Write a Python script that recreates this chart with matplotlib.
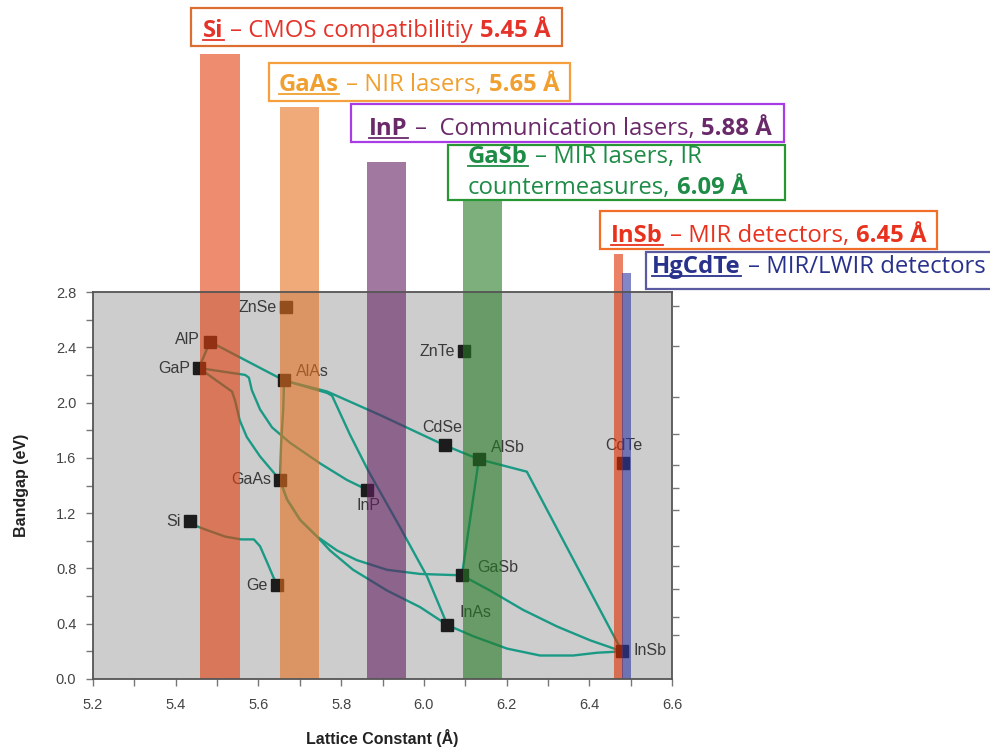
import matplotlib
matplotlib.use("Agg")
import matplotlib.pyplot as plt
from matplotlib.patches import Rectangle
from matplotlib.lines import Line2D
from matplotlib.ticker import MultipleLocator

# compuestos: constante de red (Å) y bandgap (eV)
compounds = ["ZnSe", "AlP", "GaP", "AlAs", "ZnTe", "CdSe", "AlSb", "CdTe",
             "GaAs", "InP", "Si", "Ge", "GaSb", "InAs", "InSb"]
lattice = [5.667, 5.483, 5.456, 5.662, 6.098, 6.051, 6.133, 6.482,
           5.652, 5.862, 5.435, 5.645, 6.092, 6.057, 6.479]
bandgap = [2.69, 2.44, 2.25, 2.16, 2.37, 1.69, 1.59, 1.56,
           1.44, 1.37, 1.14, 0.68, 0.75, 0.39, 0.20]

# aleaciones (x, y)
AlP_GaP = ([5.483, 5.456], [2.44, 2.25])
AlP_AlAs = ([5.483, 5.662], [2.44, 2.16])
GaP_InP = ([5.456, 5.568, 5.577, 5.584, 5.604, 5.633, 5.676, 5.749, 5.814, 5.862],
           [2.25, 2.20, 2.18, 2.09, 1.95, 1.82, 1.71, 1.56, 1.44, 1.37])
GaP_GaAs = ([5.456, 5.536, 5.543, 5.555, 5.572, 5.604, 5.652],
            [2.25, 2.08, 2.02, 1.87, 1.75, 1.61, 1.44])
AlAs_GaAs = ([5.662, 5.660, 5.655, 5.652], [2.16, 1.95, 1.71, 1.44])
AlAs_AlSb = ([5.662, 5.766, 5.894, 6.051, 6.133], [2.16, 2.08, 1.91, 1.69, 1.59])
AlAs_InAs = ([5.662, 5.766, 5.778, 5.821, 5.865, 5.942, 6.008, 6.057],
             [2.16, 2.07, 2.05, 1.77, 1.51, 1.10, 0.74, 0.39])
GaAs_GaSb = ([5.652, 5.669, 5.701, 5.742, 5.790, 5.838, 5.911, 5.991, 6.092],
             [1.44, 1.30, 1.15, 1.03, 0.93, 0.86, 0.79, 0.76, 0.75])
GaAs_InAs = ([5.652, 5.669, 5.701, 5.742, 5.773, 5.829, 5.911, 5.991, 6.057],
             [1.44, 1.30, 1.15, 1.03, 0.93, 0.79, 0.64, 0.52, 0.39])
Si_Ge = ([5.435, 5.447, 5.473, 5.520, 5.558, 5.589, 5.604, 5.623, 5.640, 5.645],
         [1.14, 1.11, 1.08, 1.03, 1.01, 1.01, 0.96, 0.83, 0.71, 0.68])
AlSb_InSb = ([6.133, 6.249, 6.479], [1.59, 1.50, 0.20])
AlSb_GaSb = ([6.133, 6.092], [1.59, 0.75])
GaSb_InSb = ([6.092, 6.160, 6.240, 6.322, 6.402, 6.479],
             [0.75, 0.64, 0.50, 0.38, 0.28, 0.20])
InAs_InSb = ([6.057, 6.119, 6.201, 6.281, 6.361, 6.419, 6.479],
             [0.39, 0.31, 0.22, 0.17, 0.17, 0.19, 0.20])
alloys = [AlP_GaP, AlP_AlAs, GaP_InP, GaP_GaAs, AlAs_GaAs, AlAs_AlSb, AlAs_InAs,
          GaAs_GaSb, GaAs_InAs, Si_Ge, AlSb_InSb, AlSb_GaSb, GaSb_InSb, InAs_InSb]

# barras de sustrato
bar_left = [5.458, 5.652, 5.862, 6.094, 6.460, 6.480]
bar_width = [0.097, 0.094, 0.095, 0.096, 0.021, 0.020]
bar_top = [4.52, 4.14, 3.74, 3.55, 3.075, 2.94]
bar_colors = ["#e13f0d", "#e6711e", "#611e61", "#267a26", "#de2f00", "#2f37a3"]

# eje derecho (marcas sin etiqueta)
right_ticks_ev = [2.70, 2.41, 2.04, 1.77, 1.55, 1.38, 1.22, 0.96, 0.82, 0.65, 0.45, 0.32]

# cajas de texto superiores
header_names = ["Si", "GaAs", "InP", "GaSb", "InSb", "HgCdTe"]
header_desc = ["– CMOS compatibilitiy", "– NIR lasers,", "–  Communication lasers,",
               "– MIR lasers, IR", "– MIR detectors,", "– MIR/LWIR detectors"]
header_value = ["5.45 Å", "5.65 Å", "5.88 Å", "", "6.45 Å", ""]
header_line2 = ["", "", "", "countermeasures,", "", ""]
header_line2_value = ["", "", "", "6.09 Å", "", ""]
header_text_colors = ["#e5332a", "#f0a030", "#6a2a6a", "#1e8c46", "#e8321e", "#28328c"]
header_edge_colors = ["#dc6e32", "#f5a03c", "#aa3ce6", "#289632", "#f06e28", "#5a5aa0"]

W, H = 990, 747
fig = plt.figure(figsize=(W / 100, H / 100), dpi=100)
ax = fig.add_axes([93 / W, (H - 679) / H, (672 - 93) / W, (679 - 292) / H])
ax.set_facecolor("#cdcdcd")

for xs, ys in alloys:
    ax.plot(xs, ys, color="#1a9a85", lw=1.7, zorder=3, solid_joinstyle="round")
ax.plot(lattice, bandgap, "s", ms=8.5, color="#1c1c1c", zorder=4)

# posiciones de etiquetas (pixeles respecto al marcador)
label_offsets = {
    "ZnSe": (-9, 0, "right", "center"), "AlP": (-10, 2, "right", "center"),
    "GaP": (-9, 0, "right", "center"), "AlAs": (12, 9, "left", "center"),
    "ZnTe": (-9, 0, "right", "center"), "CdSe": (-3, 18, "center", "center"),
    "AlSb": (12, 12, "left", "center"), "CdTe": (1, 18, "center", "center"),
    "GaAs": (-9, 0, "right", "center"), "InP": (2, -16, "center", "center"),
    "Si": (-10, 0, "right", "center"), "Ge": (-9, 0, "right", "center"),
    "GaSb": (15, 8, "left", "center"), "InAs": (12, 13, "left", "center"),
    "InSb": (12, 1, "left", "center"),
}
for name, x, y in zip(compounds, lattice, bandgap):
    dx, dy, ha, va = label_offsets[name]
    ax.annotate(name, (x, y), xytext=(dx, dy), textcoords="offset pixels",
                ha=ha, va=va, fontsize=11.5, color="#3a3a3a",
                family="Liberation Sans", zorder=4)

for l, w, t, c in zip(bar_left, bar_width, bar_top, bar_colors):
    ax.bar(l, t, width=w, align="edge", color=c, alpha=0.6, zorder=5,
           clip_on=False, linewidth=0)

ax.set_xlim(5.2, 6.6)
ax.set_ylim(0, 2.8)
ax.set_xticks([5.2, 5.4, 5.6, 5.8, 6.0, 6.2, 6.4, 6.6])
ax.set_xticklabels(["5.2", "5.4", "5.6", "5.8", "6.0", "6.2", "6.4", "6.6"])
ax.set_yticks([0, 0.4, 0.8, 1.2, 1.6, 2.0, 2.4, 2.8])
ax.set_yticklabels(["0.0", "0.4", "0.8", "1.2", "1.6", "2.0", "2.4", "2.8"])
ax.xaxis.set_minor_locator(MultipleLocator(0.1))
ax.yaxis.set_minor_locator(MultipleLocator(0.2))
ax.tick_params(which="both", direction="out", length=5, width=1, color="#777777")
ax.tick_params(axis="x", pad=9, labelsize=10.5, labelcolor="#444444")
ax.tick_params(axis="y", pad=7, labelsize=10.5, labelcolor="#444444")
for lab in ax.get_xticklabels() + ax.get_yticklabels():
    lab.set_family("Liberation Sans")
for s in ax.spines.values():
    s.set_color("#555555")
    s.set_linewidth(1.3)
    s.set_zorder(6)

ax2 = ax.twinx()
ax2.set_ylim(0, 2.8)
ax2.set_yticks(right_ticks_ev)
ax2.set_yticklabels([])
ax2.tick_params(direction="out", length=5, width=1, color="#777777")
for s in ax2.spines.values():
    s.set_visible(False)

ax.set_xlabel("Lattice Constant (Å)", fontsize=11.5, fontweight="bold",
              family="Liberation Sans", color="#222222", labelpad=12)
ax.set_ylabel("Bandgap (eV)", fontsize=11.5, fontweight="bold",
              family="Liberation Sans", color="#222222", labelpad=19)

# cajas superiores
box_px = [(191, 8, 562, 46), (269, 63, 570, 101), (351, 104, 784, 142),
          (448, 145, 785, 200), (600, 211, 937, 249), (646, 252, 995, 289)]
text_px = [(203, 37), (279, 91), (369, 135), (468, 163), (611, 242), (652, 273)]
line2_gap = 31
HF = "Open Sans"
FS = 17.2
gap = 7

renderer = fig.canvas.get_renderer()


def put(x, base, s, col, bold):
    t = fig.text(x / W, (H - base) / H, s, fontsize=FS, family=HF, color=col,
                 fontweight="bold" if bold else "normal", va="baseline", zorder=4)
    return t.get_window_extent(renderer)


for i in range(len(header_names)):
    x0, y0, x1, y1 = box_px[i]
    fig.add_artist(Rectangle((x0 / W, (H - y1) / H), (x1 - x0) / W, (y1 - y0) / H,
                             transform=fig.transFigure, facecolor="white",
                             edgecolor=header_edge_colors[i], lw=1.6, zorder=2))
    col = header_text_colors[i]
    tx, base = text_px[i]
    bb = put(tx, base, header_names[i], col, True)
    uy = (H - base - 3) / H
    fig.add_artist(Line2D([bb.x0 / W, bb.x1 / W], [uy, uy], transform=fig.transFigure,
                          color=col, lw=1.3, zorder=4))
    bb = put(bb.x1 + gap, base, header_desc[i], col, False)
    if header_value[i]:
        put(bb.x1 + gap, base, header_value[i], col, True)
    if header_line2[i]:
        bb = put(tx, base + line2_gap, header_line2[i], col, False)
        put(bb.x1 + gap, base + line2_gap, header_line2_value[i], col, True)

fig.savefig("out.png", dpi=100)
